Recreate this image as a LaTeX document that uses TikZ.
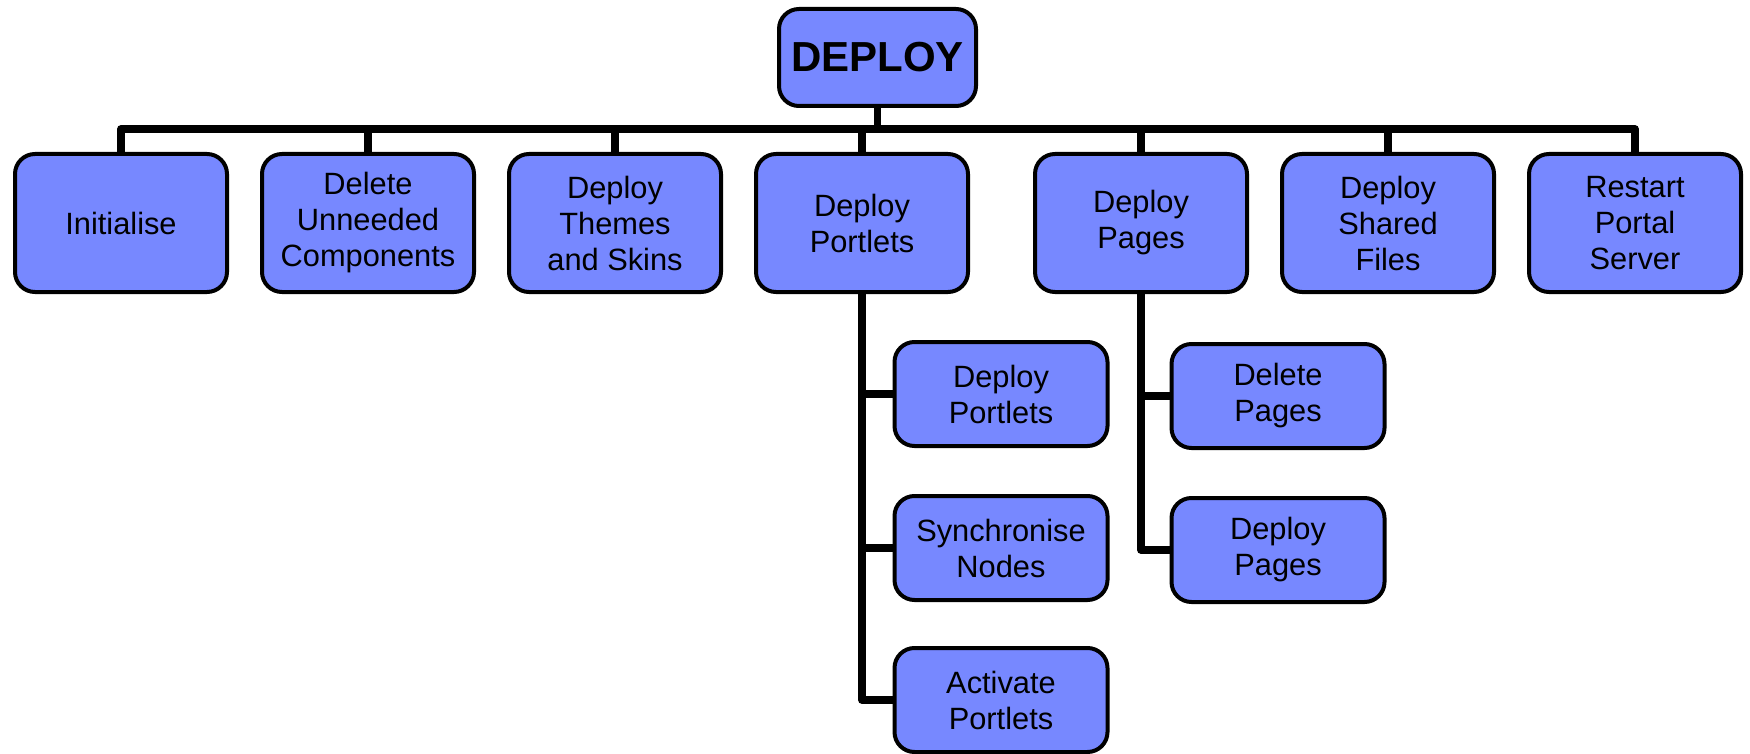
\documentclass[tikz,border=0pt]{standalone}
\usepackage{fontspec}
\setmainfont{Liberation Sans}
\definecolor{boxfill}{RGB}{119,136,255}
\begin{document}
\begin{tikzpicture}[x=0.5pt,y=-0.5pt,
  box/.style={draw=black, line width=2pt, fill=boxfill, rounded corners=10pt,
    align=center, inner sep=0pt, font=\fontsize{15.4pt}{18pt}\selectfont},
  topbox/.style={box, minimum width=106pt, minimum height=69pt},
  subbox/.style={box, minimum width=106.5pt, minimum height=52pt},
  rootbox/.style={box, minimum width=98.5pt, minimum height=48.5pt,
    font=\fontsize{21pt}{24pt}\selectfont\bfseries},
  conn/.style={draw=black, line width=3.75pt, line join=round}]
\useasboundingbox (0,0) rectangle (1750,754);
\node[rootbox] (root) at (877.5,57.5) {DEPLOY};
\node[topbox] (init) at (121,223) {Initialise};
\node[topbox] (del) at (368,223) {Delete\\Unneeded\\Components};
\node[topbox] (themes) at (615,223) {Deploy\\Themes\\and Skins};
\node[topbox] (portlets) at (862,223) {Deploy\\Portlets};
\node[topbox] (pages) at (1141,223) {Deploy\\Pages};
\node[topbox] (shared) at (1388,223) {Deploy\\Shared\\Files};
\node[topbox] (restart) at (1635,223) {Restart\\Portal\\Server};
\node[subbox] (dp) at (1001,394) {Deploy\\Portlets};
\node[subbox] (sync) at (1001,548) {Synchronise\\Nodes};
\node[subbox] (act) at (1001,700) {Activate\\Portlets};
\node[subbox] (delp) at (1278,396) {Delete\\Pages};
\node[subbox] (depp) at (1278,550) {Deploy\\Pages};
\coordinate (bar) at (0,129);
\draw[conn] (root.south) -- (root.south |- bar);
\draw[conn] (init.north) -- (init.north |- bar) -- (restart.north |- bar) -- (restart.north);
\foreach \n in {del,themes,portlets,pages,shared}
  \draw[conn] (\n.north |- bar) -- (\n.north);
\draw[conn] (portlets.south) |- (act.west);
\draw[conn] (portlets.south |- dp.west) -- (dp.west);
\draw[conn] (portlets.south |- sync.west) -- (sync.west);
\draw[conn] (pages.south) |- (depp.west);
\draw[conn] (pages.south |- delp.west) -- (delp.west);
\end{tikzpicture}
\end{document}
